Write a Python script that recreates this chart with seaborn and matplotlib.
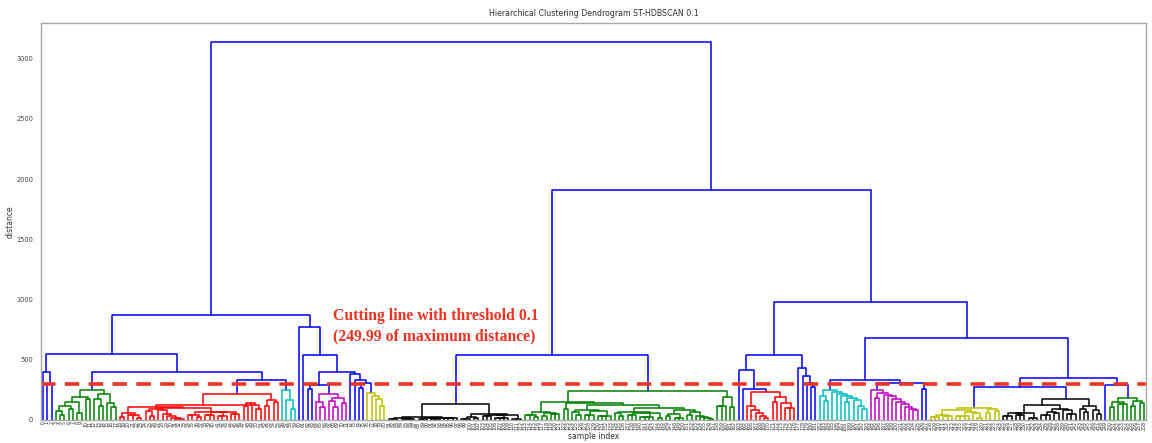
import pandas as pd
import seaborn as sns
import matplotlib.pyplot as plt

# merge heights; a leaf is 0, a node is [height, child, child, ...]
blue3 = [400, 0, [300, 0, 0]]
green1 = [245, [193, [150, [117, [75, 0, [40, 0, 0]], [90, 0, 0]], [60, 0, 0]], [175, 0, 0]],
          [217, [170, 0, [120, 0, 0]], [140, 0, [110, 0, 0]]]]
red1 = [217,
        [128,
         [105, [60, [25, 0, 0], [42, 0, 0, [20, 0, 0]]],
          [100, [92, [72, 0, [30, 0, 0]], [80, 0, [48, 0, [33, 0, [20, 0, [10, 0, 0, 0]]]]]],
           [68, [45, 0, 0, [25, 0, 0]], [62, [40, 0, 0, 0], [30, 0, 0, 0], [50, 0, 0, 0]]]]],
         [140, [115, 0, 0], [125, 0, [90, 0, 0]]]],
        [165, [120, 0, 0], [150, 0, 0]]]
cyan1 = [246, 0, [165, 0, [90, 0, 0]]]
magenta1 = [217, [150, 0, [110, 0, 0]], [185, [160, 0, [105, 0, 0]], [140, 0, 0]]]
yellow1 = [225, 0, [200, 0, [170, 0, [120, 0, 0]]]]
black1 = [130,
          [22, [15, [8, 0, 0, 0], [12, 0, 0, 0, 0]], [18, [10, 0, 0, 0], [6, 0, 0, 0], [14, 0, 0, 0, 0]]],
          [48, [25, [10, 0, 0, 0], [18, 0, 0]], [40, [30, 0, 0, 0], [20, 0, 0, 0, 0], [12, 0, 0, 0]]]]
green2 = [242,
          [153,
           [70, [45, 0, 0, [25, 0, 0]], [60, [35, 0, 0], [50, 0, 0, 0]]],
           [140, [95, 0, 0],
            [125,
             [85, [65, 0, [40, 0, 0]], [75, [45, 0, 0, 0], [30, 0, 0, 0, 0]]],
             [100,
              [70, [55, 0, [35, 0, 0]], [60, [40, 0, 0, 0], [25, 0, 0, 0, 0], [20, 0, 0]]],
              [80, [50, [30, 0, 0], [20, 0, 0, 0]], [65, [45, 0, 0], [35, 0, [22, 0, [15, 0, [8, 0, 0]]]]]]]]]],
          [192, [117, 0, 0, 0], [110, 0, 0]]]
red2 = [233, [120, 0, [80, 0, [55, 0, [35, 0, [20, 0, 0]]]]], [190, [150, 0, 0], [140, 0, [100, 0, 0, 0]]]]
cyan2 = [248, [200, 0, [160, 0, 0]],
         [235, 0, [215, 0, [195, 0, [180, [150, 0, 0], [165, 0, [120, 0, [90, 0, 0]]]]]]]]
magenta2 = [245, 0, [225, [180, 0, 0],
                     [210, 0, [195, 0, [175, 0, [150, 0, [130, 0, [110, 0, [95, 0, [80, 0, 0]]]]]]]]]]
yellow2 = [100,
           [85, [45, [25, 0, 0, 0], [35, 0, 0, 0]], [70, [30, 0, 0, 0, 0], [55, 0, [20, 0, 0]]]],
           [90, [60, 0, 0], [75, 0, 0]]]
black2 = [175,
          [125, [60, [30, 0, 0, 0], [45, 0, 0, 0], [20, 0, 0, 0]],
           [95, [70, [40, 0, 0, 0], [55, 0, 0]], [80, 0, [50, 0, 0, 0]]]],
          [120, [95, 0, [70, 0, 0]], [85, 0, [50, 0, 0]]]]
green3 = [183, [150, [110, 0, 0], [130, 0, 0, 0]], [160, [120, 0, 0], [140, 0, 0]]]

# upper (blue) part of the tree
left_tree = [875,
             [550, blue3, [400, green1, [333, red1, cyan1]]],
             [775, 0, [540, 0, [400, [290, [260, 0, 0], magenta1],
                                [380, 0, [335, 0, [305, [265, 0, 0], yellow1]]]]]]]
right_tree = [1910,
              [542, black1, green2],
              [983,
               [542, [417, 0, [258, 0, red2]], [433, 0, [367, 0, [308, 0, [270, 0, 0]]]]],
               [683,
                [333, cyan2, [305, magenta2, [258, 0, 0]]],
                [345, [275, yellow2, black2], [292, 0, green3]]]]]
tree = [3140, left_tree, right_tree]

color_threshold = 249.99
cut_line = 300
palette = ['g', 'r', 'c', 'm', 'y', 'k']
above_color = 'b'

rows = []
leaves = []
state = {'leaf': 0, 'color': 0, 'link': 0}


def walk(node, color):
    if node == 0:
        x = 5 + 10 * state['leaf']
        leaves.append(x)
        state['leaf'] += 1
        return x, 0.0
    h = node[0]
    if color is None and h < color_threshold:
        color = palette[state['color'] % len(palette)]
        state['color'] += 1
    link_color = color if color is not None else above_color
    x, y = walk(node[1], color)
    for child in node[2:]:
        x2, y2 = walk(child, color)
        for px, py in zip([x, x, x2, x2], [y, h, h, y2]):
            rows.append({'x': px, 'y': py, 'link': state['link'], 'color': link_color})
        state['link'] += 1
        x, y = (x + x2) / 2, h
    return x, h


walk(tree, None)
links = pd.DataFrame(rows)

sns.set_style('white')
plt.rcParams['font.family'] = ['DejaVu Sans']
fig, ax = plt.subplots(figsize=(11.52, 4.43), dpi=100)
fig.subplots_adjust(left=0.0356, right=0.9948, top=0.948, bottom=0.052)

sns.lineplot(data=links, x='x', y='y', units='link', estimator=None, sort=False,
             hue='color', palette={c: c for c in palette + [above_color]},
             legend=False, linewidth=1.1, ax=ax)

ax.axhline(cut_line, color='#ee3322', linestyle=(0, (4, 2.6)), linewidth=2.6)
ax.text(684, 780, 'Cutting line with threshold 0.1\n(249.99 of maximum distance)',
        color='#ee3322', fontsize=11.3, fontweight='bold', family='Liberation Serif',
        ha='left', va='center', linespacing=1.35)

ax.set_xlim(0, 10 * len(leaves))
ax.set_ylim(0, 3140 * 1.05)
ax.set_xticks(leaves)
ax.set_xticklabels([str(i) for i in range(len(leaves))], rotation=90, fontsize=3.4, color='#333333')
ax.set_yticks(range(0, 3001, 500))
ax.tick_params(axis='y', labelsize=4.8, length=2, colors='#444444')
ax.tick_params(axis='x', length=0, pad=1)
ax.set_title('Hierarchical Clustering Dendrogram ST-HDBSCAN 0.1', fontsize=5.7, color='#333333', pad=5)
ax.set_ylabel('distance', fontsize=5.5, color='#333333', labelpad=1)
ax.set_xlabel('sample index', fontsize=5.5, color='#333333', labelpad=1)
for side in ax.spines.values():
    side.set_color('#a8a8a8')
    side.set_linewidth(1)

fig.savefig('out.png', dpi=100)
